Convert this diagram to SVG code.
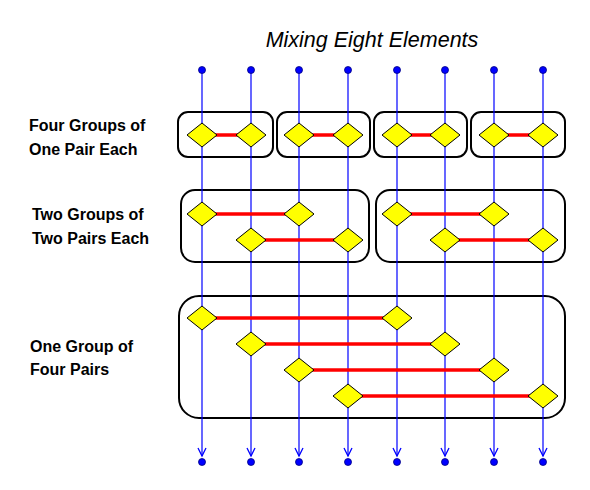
<svg xmlns="http://www.w3.org/2000/svg" width="590" height="490" viewBox="0 0 590 490">
<style>
.lbl{font-family:"Liberation Sans",Arial,sans-serif;font-size:16px;font-weight:bold;fill:#000}
.title{font-family:"Liberation Sans",Arial,sans-serif;font-size:21.5px;font-style:italic;fill:#000}
.wire{stroke:#0000ff;stroke-width:1.2;fill:none}
.dot{fill:#0000ff;stroke:#000080;stroke-width:0.8}
.box{fill:none;stroke:#000;stroke-width:2}
.link{stroke:#ff0000;stroke-width:3.5}
.dia{fill:#ffff00;stroke:#000;stroke-width:1}
</style>
<defs>
<marker id="arr" markerWidth="12" markerHeight="12" refX="10" refY="6" orient="auto" markerUnits="userSpaceOnUse" viewBox="0 0 12 12">
<path d="M2,2 L10,6 L2,10" stroke="#0000ff" stroke-width="1.3" fill="none"/>
</marker>
<polygon id="d" points="-15,0 0,-12 15,0 0,12" class="dia"/>
</defs>
<rect width="590" height="490" fill="#fff"/>
<text class="title" x="372" y="47" text-anchor="middle">Mixing Eight Elements</text>
<g id="labels">
<text class="lbl" x="29" y="131">Four Groups of</text>
<text class="lbl" x="29" y="155">One Pair Each</text>
<text class="lbl" x="32" y="220">Two Groups of</text>
<text class="lbl" x="32" y="244">Two Pairs Each</text>
<text class="lbl" x="30" y="352">One Group of</text>
<text class="lbl" x="30" y="375">Four Pairs</text>
</g>
<g id="boxes">
<rect id="g1a" class="box" x="178" y="112" width="95" height="45" rx="10"/>
<rect id="g1b" class="box" x="277" y="112" width="93" height="45" rx="10"/>
<rect id="g1c" class="box" x="374" y="112" width="93" height="45" rx="10"/>
<rect id="g1d" class="box" x="471" y="112" width="94" height="45" rx="10"/>
<rect id="g2a" class="box" x="181" y="190" width="188" height="72" rx="14"/>
<rect id="g2b" class="box" x="376" y="190" width="189" height="72" rx="14"/>
<rect id="g3" class="box" x="179" y="296" width="386" height="122" rx="20"/>
</g>
<g id="connectors">
<line class="wire" x1="202" y1="70" x2="202" y2="456" marker-end="url(#arr)"/>
<line class="wire" x1="251" y1="70" x2="251" y2="456" marker-end="url(#arr)"/>
<line class="wire" x1="299" y1="70" x2="299" y2="456" marker-end="url(#arr)"/>
<line class="wire" x1="348" y1="70" x2="348" y2="456" marker-end="url(#arr)"/>
<line class="wire" x1="397" y1="70" x2="397" y2="456" marker-end="url(#arr)"/>
<line class="wire" x1="445" y1="70" x2="445" y2="456" marker-end="url(#arr)"/>
<line class="wire" x1="494" y1="70" x2="494" y2="456" marker-end="url(#arr)"/>
<line class="wire" x1="543" y1="70" x2="543" y2="456" marker-end="url(#arr)"/>
<line class="link" x1="202" y1="135" x2="251" y2="135"/>
<line class="link" x1="299" y1="135" x2="348" y2="135"/>
<line class="link" x1="397" y1="135" x2="445" y2="135"/>
<line class="link" x1="494" y1="135" x2="543" y2="135"/>
<line class="link" x1="202" y1="214" x2="299" y2="214"/>
<line class="link" x1="251" y1="240" x2="348" y2="240"/>
<line class="link" x1="397" y1="214" x2="494" y2="214"/>
<line class="link" x1="445" y1="240" x2="543" y2="240"/>
<line class="link" x1="202" y1="318" x2="397" y2="318"/>
<line class="link" x1="251" y1="344" x2="445" y2="344"/>
<line class="link" x1="299" y1="370" x2="494" y2="370"/>
<line class="link" x1="348" y1="396" x2="543" y2="396"/>
</g>
<g id="inputs">
<circle class="dot" cx="202" cy="70" r="3.5"/>
<circle class="dot" cx="251" cy="70" r="3.5"/>
<circle class="dot" cx="299" cy="70" r="3.5"/>
<circle class="dot" cx="348" cy="70" r="3.5"/>
<circle class="dot" cx="397" cy="70" r="3.5"/>
<circle class="dot" cx="445" cy="70" r="3.5"/>
<circle class="dot" cx="494" cy="70" r="3.5"/>
<circle class="dot" cx="543" cy="70" r="3.5"/>
</g>
<g id="outputs">
<circle class="dot" cx="202" cy="462" r="3.5"/>
<circle class="dot" cx="251" cy="462" r="3.5"/>
<circle class="dot" cx="299" cy="462" r="3.5"/>
<circle class="dot" cx="348" cy="462" r="3.5"/>
<circle class="dot" cx="397" cy="462" r="3.5"/>
<circle class="dot" cx="445" cy="462" r="3.5"/>
<circle class="dot" cx="494" cy="462" r="3.5"/>
<circle class="dot" cx="543" cy="462" r="3.5"/>
</g>
<g id="nodes">
<use id="n1a" href="#d" x="202" y="135"/><use id="n1b" href="#d" x="251" y="135"/>
<use id="n1c" href="#d" x="299" y="135"/><use id="n1d" href="#d" x="348" y="135"/>
<use id="n1e" href="#d" x="397" y="135"/><use id="n1f" href="#d" x="445" y="135"/>
<use id="n1g" href="#d" x="494" y="135"/><use id="n1h" href="#d" x="543" y="135"/>
<use id="n2a" href="#d" x="202" y="214"/><use id="n2b" href="#d" x="299" y="214"/>
<use id="n2c" href="#d" x="251" y="240"/><use id="n2d" href="#d" x="348" y="240"/>
<use id="n2e" href="#d" x="397" y="214"/><use id="n2f" href="#d" x="494" y="214"/>
<use id="n2g" href="#d" x="445" y="240"/><use id="n2h" href="#d" x="543" y="240"/>
<use id="n3a" href="#d" x="202" y="318"/><use id="n3b" href="#d" x="397" y="318"/>
<use id="n3c" href="#d" x="251" y="344"/><use id="n3d" href="#d" x="445" y="344"/>
<use id="n3e" href="#d" x="299" y="370"/><use id="n3f" href="#d" x="494" y="370"/>
<use id="n3g" href="#d" x="348" y="396"/><use id="n3h" href="#d" x="543" y="396"/>
</g>
</svg>
